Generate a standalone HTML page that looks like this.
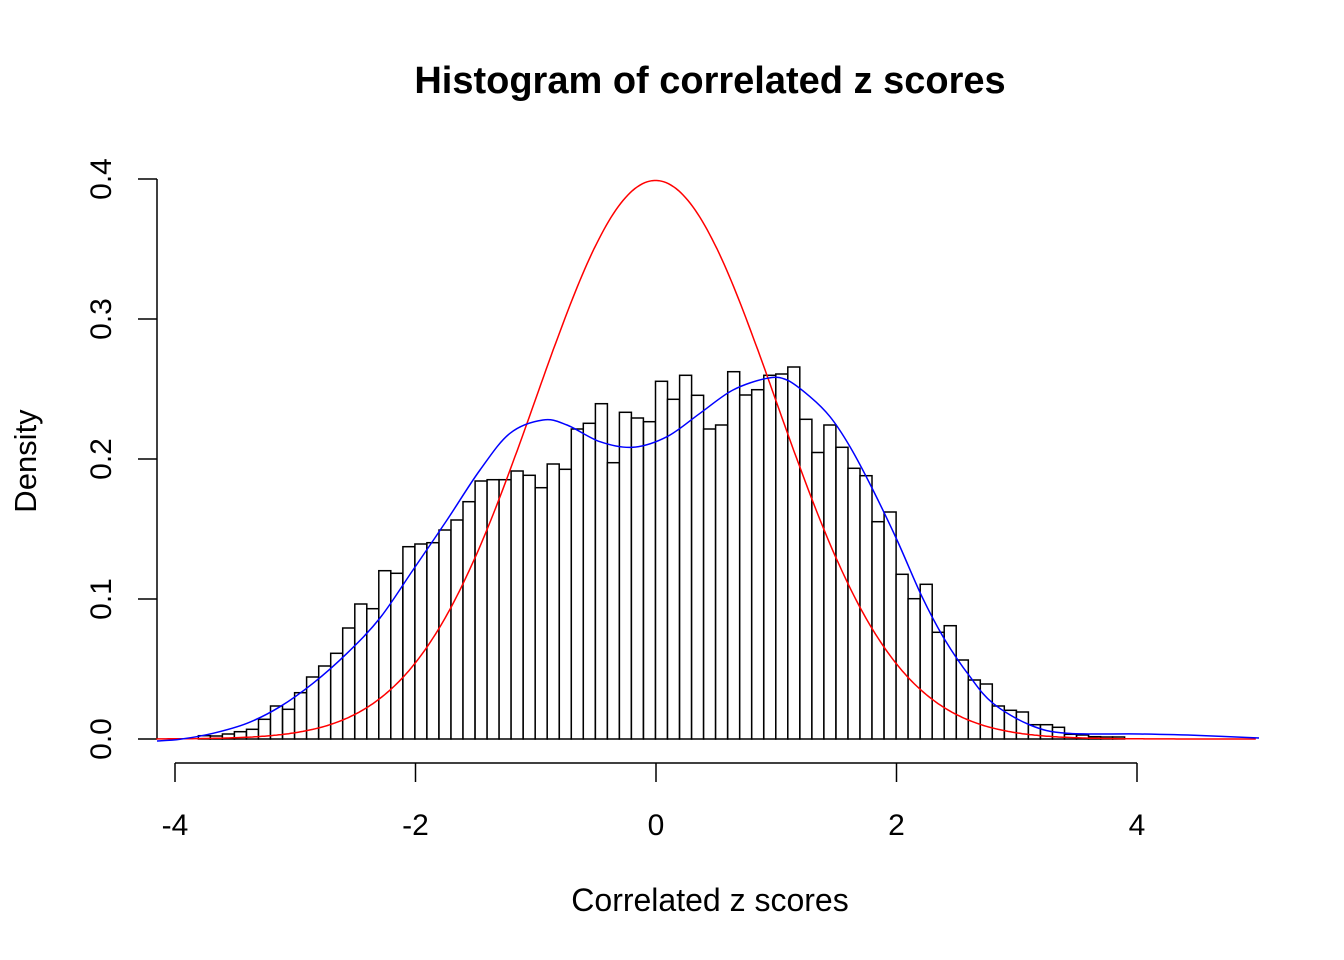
<!DOCTYPE html>
<html><head><meta charset="utf-8"><style>
html,body{margin:0;padding:0;background:#fff;}
svg{display:block;font-family:"Liberation Sans",Arial,sans-serif;}
</style></head><body>
<svg id="s" width="1344" height="960" xmlns="http://www.w3.org/2000/svg">
<text x="710" y="93" text-anchor="middle" font-size="38" font-weight="bold">Histogram of correlated z scores</text>
<text x="710" y="911" text-anchor="middle" font-size="32">Correlated z scores</text>
<text transform="translate(36,461) rotate(-90)" text-anchor="middle" font-size="31">Density</text>
<g stroke="#000" stroke-width="1.5" fill="none">
<line x1="157" y1="179" x2="157" y2="739"/>
<line x1="138" y1="179" x2="157" y2="179"/>
<line x1="138" y1="319" x2="157" y2="319"/>
<line x1="138" y1="459" x2="157" y2="459"/>
<line x1="138" y1="599" x2="157" y2="599"/>
<line x1="138" y1="739" x2="157" y2="739"/>
<line x1="175" y1="763" x2="1137" y2="763"/>
<line x1="175" y1="763" x2="175" y2="782"/>
<line x1="415.5" y1="763" x2="415.5" y2="782"/>
<line x1="656" y1="763" x2="656" y2="782"/>
<line x1="896.5" y1="763" x2="896.5" y2="782"/>
<line x1="1137" y1="763" x2="1137" y2="782"/>
</g>
<g font-size="30" text-anchor="middle">
<text x="175" y="835">-4</text><text x="415.5" y="835">-2</text><text x="656" y="835">0</text><text x="896.5" y="835">2</text><text x="1137" y="835">4</text>
<text transform="translate(111,179) rotate(-90)">0.4</text>
<text transform="translate(111,319) rotate(-90)">0.3</text>
<text transform="translate(111,459) rotate(-90)">0.2</text>
<text transform="translate(111,599) rotate(-90)">0.1</text>
<text transform="translate(111,739) rotate(-90)">0.0</text>
</g>
<g id="bars" stroke="#000" stroke-width="1.5" fill="#fff"></g>
<polyline id="red" fill="none" stroke="#f00" stroke-width="1.5"/>
<path id="blue" fill="none" stroke="#00f" stroke-width="1.5"/>
</svg>
<script>
var tops=[735.7,736,734,731.7,729.3,719.3,706,709.3,692.7,677,666,653.3,628,604,608.7,570.7,573.3,546.7,544,542.7,530,520,501.7,481,479.7,479.7,
471,475.3,487.7,464,469.3,429,423.3,403.7,462.7,412.3,418,421.7,381.3,399.3,375.3,395.3,429,425,371.7,395,389.7,375.3,374,367,419.3,452.5,425,
447.3,468.3,475.7,521.7,512,574.3,598.7,584.3,632.3,625.7,660,680,684,706,710.3,712,724.7,724.7,727.3,734.3,735,736.7,737,737];
var g=document.getElementById('bars'),h='';
function px(x){return 655.5+x*120.3;}
for(var i=0;i<tops.length;i++){var x0=px(-3.8+i*0.1),x1=px(-3.7+i*0.1);
h+='<rect x="'+x0.toFixed(1)+'" y="'+tops[i]+'" width="'+(x1-x0).toFixed(1)+'" height="'+(739-tops[i]).toFixed(1)+'"/>';}
g.innerHTML=h;
var r='';for(var x=-4.15;x<=5.0001;x+=0.02){var d=Math.exp(-x*x/2)/Math.sqrt(2*Math.PI);r+=px(x).toFixed(1)+','+(739-1400*d).toFixed(1)+' ';}
document.getElementById('red').setAttribute('points',r);
var b=[[157,741],[180,739.3],[213,733.3],[247,723.3],[280,706.7],[313,683.3],[347,653.3],[380,618],[413,570],[447,520],[480,470],[510,433.3],[543,420],[567,425],[600,441.7],[633,447.3],[667,436.7],[700,413.3],[733,390],[767,378.3],[787,380],[810,396.7],[830,416.7],[850,446.7],[873,490],[897,540],[922,596.7],[945,640],[970,676.7],[993,703.3],[1030,725],[1067,733.3],[1140,734],[1200,735.5],[1259,738]];
var d='M'+b[0][0]+','+b[0][1];
for(var i=0;i<b.length-1;i++){var p0=b[Math.max(i-1,0)],p1=b[i],p2=b[i+1],p3=b[Math.min(i+2,b.length-1)];
var c1x=p1[0]+(p2[0]-p0[0])/6,c1y=p1[1]+(p2[1]-p0[1])/6,c2x=p2[0]-(p3[0]-p1[0])/6,c2y=p2[1]-(p3[1]-p1[1])/6;
d+=' C'+c1x.toFixed(1)+','+c1y.toFixed(1)+' '+c2x.toFixed(1)+','+c2y.toFixed(1)+' '+p2[0]+','+p2[1];}
document.getElementById('blue').setAttribute('d',d);
</script>
</body></html>
